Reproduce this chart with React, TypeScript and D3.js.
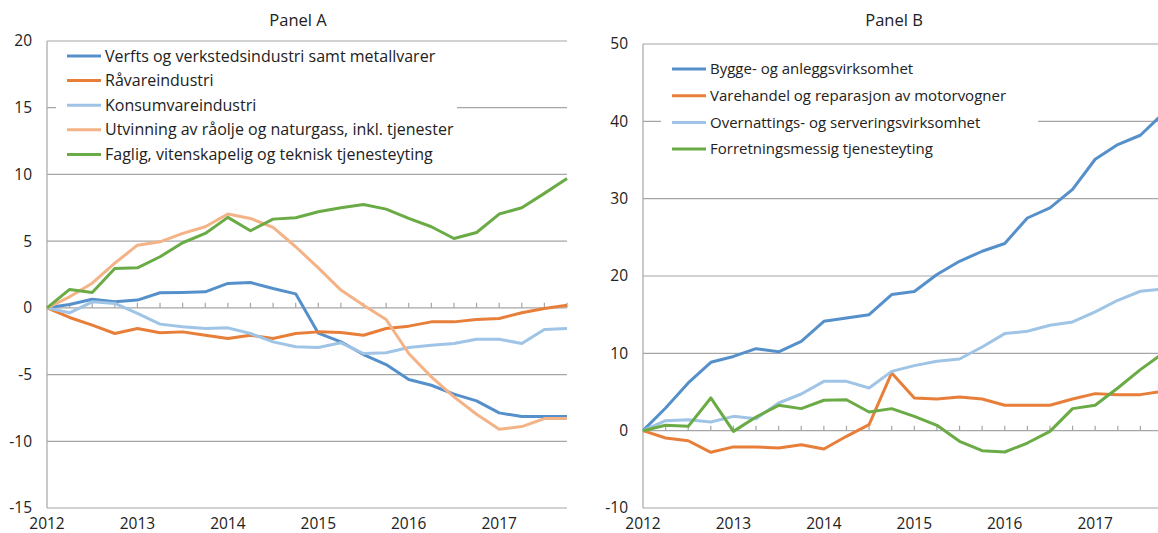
import React from "react";
import * as d3 from "d3";

// quarterly observations 2012K1 - 2017K4
const quarters = d3.range(24);
const years = ["2012", "2013", "2014", "2015", "2016", "2017"];

// Panel A series
const verfts = [0, 0.25, 0.65, 0.45, 0.58, 1.13, 1.15, 1.2, 1.83, 1.9, 1.45, 1.05, -1.9, -2.55, -3.5, -4.25, -5.37, -5.8, -6.47, -6.97, -7.87, -8.15, -8.15, -8.15];
const ravare = [0, -0.72, -1.3, -1.92, -1.55, -1.87, -1.8, -2.05, -2.3, -2.05, -2.3, -1.92, -1.8, -1.85, -2.05, -1.55, -1.37, -1.05, -1.05, -0.87, -0.8, -0.37, -0.05, 0.2];
const konsum = [0, -0.37, 0.45, 0.33, -0.42, -1.22, -1.42, -1.55, -1.5, -1.92, -2.55, -2.92, -2.97, -2.62, -3.42, -3.37, -2.97, -2.8, -2.67, -2.35, -2.35, -2.67, -1.62, -1.55];
const utvinning = [0, 0.83, 1.85, 3.35, 4.7, 4.95, 5.58, 6.08, 7.03, 6.7, 6.03, 4.58, 3.0, 1.33, 0.2, -0.87, -3.42, -5.17, -6.67, -7.97, -9.1, -8.9, -8.3, -8.3];
const faglig = [0, 1.38, 1.15, 2.95, 3.0, 3.83, 4.88, 5.58, 6.78, 5.78, 6.65, 6.75, 7.2, 7.5, 7.75, 7.4, 6.7, 6.08, 5.2, 5.65, 7.03, 7.5, 8.58, 9.7];

// Panel B series
const bygge = [0, 2.93, 6.17, 8.84, 9.6, 10.6, 10.2, 11.55, 14.14, 14.58, 15.0, 17.6, 18.0, 20.2, 21.9, 23.2, 24.2, 27.5, 28.8, 31.2, 35.1, 37.0, 38.2, 41.0];
const varehandel = [0, -0.95, -1.3, -2.8, -2.1, -2.1, -2.24, -1.81, -2.37, -0.73, 0.78, 7.46, 4.23, 4.1, 4.36, 4.1, 3.28, 3.28, 3.28, 4.1, 4.79, 4.66, 4.66, 5.1];
const overnatting = [0, 1.29, 1.42, 1.12, 1.85, 1.55, 3.58, 4.74, 6.38, 6.38, 5.52, 7.67, 8.41, 8.97, 9.27, 10.82, 12.55, 12.85, 13.63, 14.06, 15.36, 16.86, 18.03, 18.3];
const forretning = [0, 0.69, 0.56, 4.23, -0.09, 1.77, 3.28, 2.85, 3.93, 4.0, 2.42, 2.85, 1.85, 0.69, -1.38, -2.59, -2.76, -1.6, -0.09, 2.85, 3.28, 5.52, 7.89, 10.0];

const ticksA = [20, 15, 10, 5, 0, -5, -10, -15];
const ticksB = [50, 40, 30, 20, 10, 0, -10];

const C = {
  blue: "#5590cb",
  orange: "#e77f3b",
  lightBlue: "#9fc4e6",
  lightOrange: "#f3b386",
  green: "#6aab46",
};

const seriesA = [
  { name: "Verfts og verkstedsindustri samt metallvarer", values: verfts, color: C.blue },
  { name: "Råvareindustri", values: ravare, color: C.orange },
  { name: "Konsumvareindustri", values: konsum, color: C.lightBlue },
  { name: "Utvinning av råolje og naturgass, inkl. tjenester", values: utvinning, color: C.lightOrange },
  { name: "Faglig, vitenskapelig og teknisk tjenesteyting", values: faglig, color: C.green },
];
const seriesB = [
  { name: "Bygge- og anleggsvirksomhet", values: bygge, color: C.blue },
  { name: "Varehandel og reparasjon av motorvogner", values: varehandel, color: C.orange },
  { name: "Overnattings- og serveringsvirksomhet", values: overnatting, color: C.lightBlue },
  { name: "Forretningsmessig tjenesteyting", values: forretning, color: C.green },
];

const FONT = "'Open Sans', sans-serif";
const GRID = "#a6a6a6";

type Series = { name: string; values: number[]; color: string };

function Panel(props: {
  title: string;
  titleX: number;
  x0: number;
  x1: number;
  top: number;
  domain: [number, number];
  ticks: number[];
  series: Series[];
  legend: { x: number; y: number; w: number; h: number; rowY: number; step: number; font: number };
}) {
  const { title, titleX, x0, x1, top, domain, ticks, series, legend } = props;
  const x = d3.scaleLinear().domain([0, 23]).range([x0, x1]);
  const y = d3.scaleLinear().domain(domain).range([508, top]);
  const line = d3
    .line<number>()
    .x((_, i) => x(i))
    .y((d) => y(d));
  const [yMin, yMax] = domain;

  return (
    <g fontFamily={FONT}>
      <text x={titleX} y={26} fontSize={16.5} textAnchor="middle" fill="#222">
        {title}
      </text>
      {/* gridlines */}
      {ticks.map((t) => (
        <line key={t} x1={x0} x2={x1} y1={y(t)} y2={y(t)} stroke={GRID} strokeWidth={1.2} />
      ))}
      <line x1={x0} x2={x0} y1={y(yMax)} y2={y(yMin)} stroke={GRID} strokeWidth={1.2} />
      {/* quarter ticks on the zero line */}
      {quarters.slice(1).map((q) => (
        <line key={q} x1={x(q)} x2={x(q)} y1={y(0)} y2={y(0) - 5} stroke={GRID} strokeWidth={1.2} />
      ))}
      {ticks.map((t) => (
        <text key={t} x={x0 - 15} y={y(t)} dy="0.35em" fontSize={15.5} textAnchor="end" fill="#222">
          {t}
        </text>
      ))}
      {years.map((yr, i) => (
        <text key={yr} x={x(i * 4)} y={529} fontSize={15.5} textAnchor="middle" fill="#222">
          {yr}
        </text>
      ))}
      {/* legend */}
      <rect x={legend.x} y={legend.y} width={legend.w} height={legend.h} fill="#fff" />
      {series.map((s, i) => (
        <g key={s.name} transform={`translate(${legend.x + 11},${legend.rowY + i * legend.step})`}>
          <line x1={0} x2={34} y1={0} y2={0} stroke={s.color} strokeWidth={3} />
          <text x={38} y={0} dy="0.35em" fontSize={legend.font} fill="#222">
            {s.name}
          </text>
        </g>
      ))}
      {series.map((s) => (
        <path key={s.name} d={line(s.values) ?? ""} fill="none" stroke={s.color} strokeWidth={3} strokeLinejoin="round" />
      ))}
    </g>
  );
}

export default function App() {
  return (
    <svg
      width={1158}
      height={533}
      style={{ position: "absolute", left: 0, top: 0, background: "#fff", overflow: "hidden" }}
    >
      <Panel
        title="Panel A"
        titleX={298}
        x0={47}
        x1={567}
        top={41}
        domain={[-15, 20]}
        ticks={ticksA}
        series={seriesA}
        legend={{ x: 56, y: 45, w: 401, h: 122, rowY: 56, step: 24.6, font: 16 }}
      />
      <Panel
        title="Panel B"
        titleX={894}
        x0={643}
        x1={1163}
        top={44}
        domain={[-10, 50]}
        ticks={ticksB}
        series={seriesB}
        legend={{ x: 661, y: 50, w: 377, h: 112, rowY: 69, step: 26.7, font: 15 }}
      />
    </svg>
  );
}
